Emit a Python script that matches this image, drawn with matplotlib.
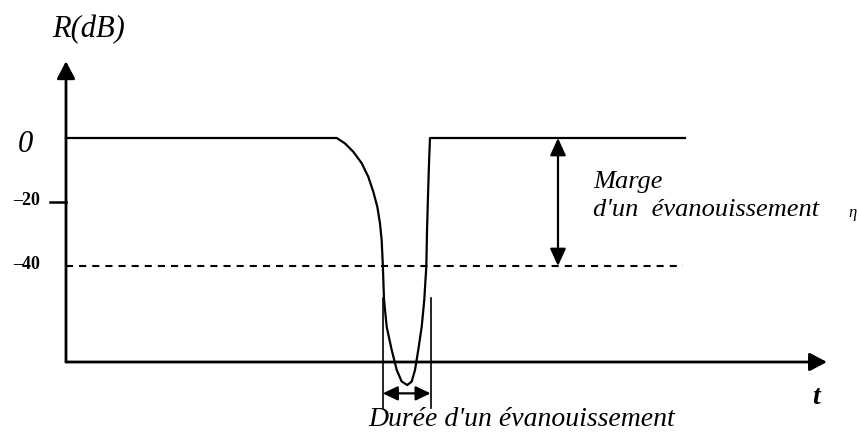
import matplotlib
matplotlib.use("Agg")
import matplotlib.pyplot as plt

# fading profile R(t) in dB, t in arbitrary time units (0 = R axis, 100 = t arrow tip)
t_curve = [0.0, 35.57, 36.66, 37.75, 38.86, 39.72, 40.38, 40.91, 41.26, 41.48,
           41.62, 41.79, 42.14, 42.80, 43.46, 44.11, 44.85, 45.43, 45.86, 46.29,
           46.74, 47.08, 47.35, 47.44, 47.57, 47.70, 47.83, 81.34]
r_curve = [0.0, 0.0, -1.7, -4.3, -7.9, -12.1, -16.8, -21.5, -26.7, -31.9,
           -39.0, -50.6, -59.0, -66.25, -72.5, -76.1, -77.2, -76.1, -72.5, -66.25,
           -59.0, -50.6, -40.0, -29.0, -18.0, -8.0, 0.0, 0.0]

threshold_db = -40           # dashed level
threshold_end = 81.1
fade_start, fade_end = 41.62, 47.92   # crossing of the threshold
margin_t = 64.65
R_MIN, R_MAX = -70, 24       # axis extents
T_MAX = 100
yticks = [-20, -40]
ytick_labels = ["-20", "-40"]

SERIF = ["Liberation Serif", "DejaVu Serif"]


def main() -> None:
    fig = plt.figure(figsize=(8.59, 4.37), dpi=100)
    ax = fig.add_axes([0, 0, 1, 1])
    ax.set_xlim(-66 / 7.61, (859 - 66) / 7.61)
    ax.set_ylim(-(437 - 138) / 3.2, 138 / 3.2)
    ax.axis("off")

    # axes with arrow heads
    head = dict(arrowstyle="-|>,head_length=10.5,head_width=5.5", mutation_scale=1,
                color="black", lw=2.0, shrinkA=0, shrinkB=0)
    ax.annotate("", xy=(0, R_MAX), xytext=(0, R_MIN), arrowprops=head)
    ax.annotate("", xy=(T_MAX, R_MIN), xytext=(0, R_MIN), arrowprops=head)

    # curve and threshold
    ax.plot(t_curve, r_curve, color="black", lw=1.6, solid_joinstyle="round")
    ax.plot([0, threshold_end], [threshold_db, threshold_db], color="black",
            lw=1.5, dashes=(3.4, 2.9))

    # -20 tick
    ax.plot([-2.1, 0], [-20, -20], color="black", lw=1.8)

    # fading margin arrow
    ax.annotate("", xy=(margin_t, threshold_db), xytext=(margin_t, 0),
                arrowprops=dict(arrowstyle="<|-|>,head_length=10.5,head_width=4.8",
                                mutation_scale=1, color="black", lw=1.6,
                                shrinkA=0, shrinkB=0))

    # fading duration
    for tx in (fade_start, fade_end):
        ax.plot([tx, tx], [-50, -84.4], color="black", lw=1.2)
    ax.annotate("", xy=(fade_end, -79.8), xytext=(fade_start, -79.8),
                arrowprops=dict(arrowstyle="<|-|>,head_length=9,head_width=4.3",
                                mutation_scale=1, color="black", lw=1.6,
                                shrinkA=0, shrinkB=0))

    # labels
    ax.text(-1.84, 33.75, "R(dB)", family=SERIF, style="italic", fontsize=22,
            ha="left", va="center")
    ax.text(-5.3, -2.0, "0", family=SERIF, style="italic", fontsize=22,
            ha="center", va="center")
    for v, lab in zip(yticks, ytick_labels):
        ax.text(-3.42, v + 0.6, lab.replace("-", "\u2013"), family=SERIF,
                fontweight="bold", fontsize=13, ha="right", va="center")
    ax.text(69.25, -13.75, "Marge", family=SERIF, style="italic", fontsize=19,
            ha="left", va="center")
    ax.text(69.25, -22.5, "d'un  évanouissement", family=SERIF, style="italic",
            fontsize=19, ha="left", va="center")
    ax.text(103.4, -23.4, "η", family=SERIF, style="italic", fontsize=12,
            ha="center", va="center")
    ax.text(98.55, -81.25, "t", family=SERIF, style="italic", fontweight="bold",
            fontsize=20, ha="center", va="center")
    ax.text(39.68, -88.1, "Durée d'un évanouissement", family=SERIF,
            style="italic", fontsize=20, ha="left", va="center")

    fig.savefig("out.png", dpi=100, facecolor="white")


if __name__ == "__main__":
    main()
